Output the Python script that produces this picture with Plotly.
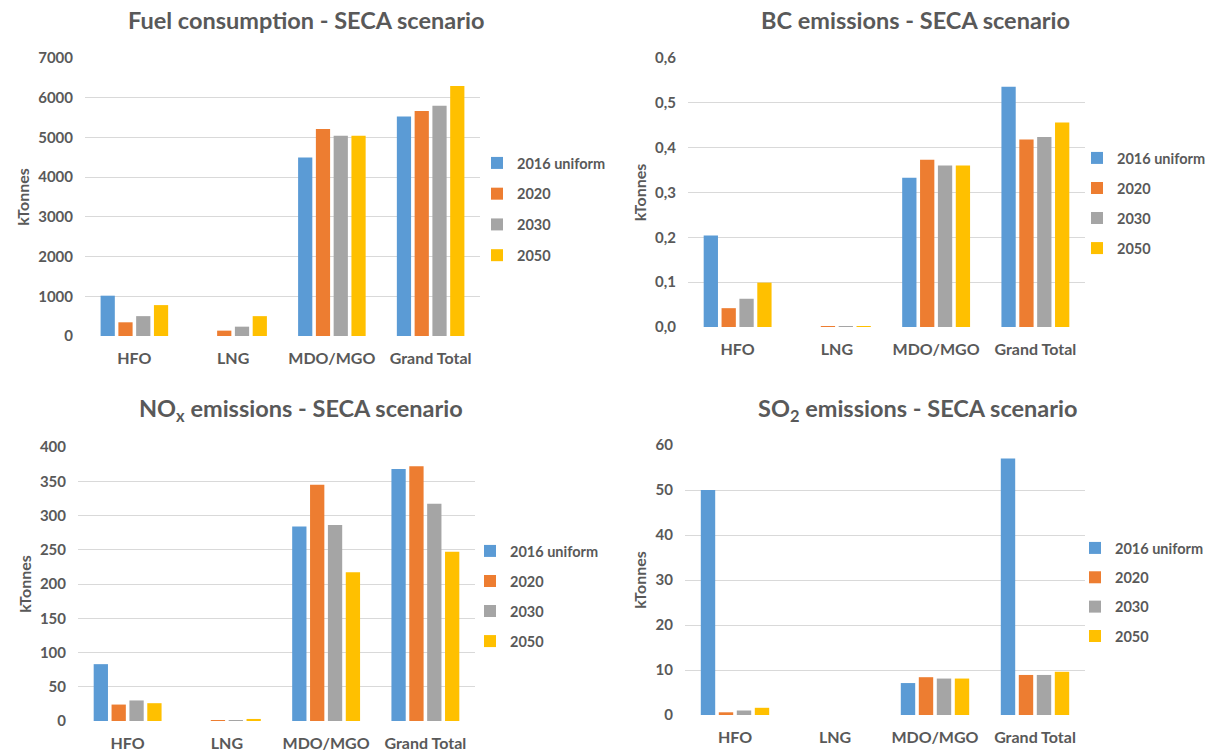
import plotly.graph_objects as go

categories = ["HFO", "LNG", "MDO/MGO", "Grand Total"]
series_names = ["2016 uniform", "2020", "2030", "2050"]
colors = ["#5B9BD5", "#ED7D31", "#A5A5A5", "#FFC000"]

# Fuel consumption (kTonnes)
fuel_2016 = [1015, 0, 4495, 5525]
fuel_2020 = [345, 135, 5215, 5665]
fuel_2030 = [500, 235, 5040, 5800]
fuel_2050 = [778, 500, 5040, 6295]

# BC emissions (kTonnes)
bc_2016 = [0.204, 0.0, 0.333, 0.536]
bc_2020 = [0.042, 0.001, 0.373, 0.418]
bc_2030 = [0.063, 0.001, 0.360, 0.424]
bc_2050 = [0.099, 0.001, 0.360, 0.456]

# NOx emissions (kTonnes)
nox_2016 = [83, 0, 284, 368]
nox_2020 = [24, 1, 345, 372]
nox_2030 = [30, 1, 286, 317]
nox_2050 = [26, 3, 217, 247]

# SO2 emissions (kTonnes)
so2_2016 = [50.0, 0, 7.1, 57.0]
so2_2020 = [0.6, 0, 8.4, 8.9]
so2_2030 = [1.0, 0, 8.1, 8.9]
so2_2050 = [1.6, 0, 8.1, 9.6]

W, H = 1217, 756


def px(x):
    return x / W


def py(y):
    return 1 - y / H


panels = [
    dict(title="Fuel consumption - SECA scenario", data=[fuel_2016, fuel_2020, fuel_2030, fuel_2050],
         xd=[px(85), px(480)], yd=[py(336), py(58)], rng=[0, 7000], dtick=1000, fmt="d",
         tx=px(306), ty=py(20), lx=px(477), ly=py(147), gap=8.9),
    dict(title="BC emissions - SECA scenario", data=[bc_2016, bc_2020, bc_2030, bc_2050],
         xd=[px(688), px(1085)], yd=[py(327), py(58)], rng=[0, 0.6], dtick=0.1, fmt=".1f",
         tx=px(916), ty=py(20), lx=px(1077), ly=py(142), gap=8.2),
    dict(title="NO<sub>x</sub> emissions - SECA scenario", data=[nox_2016, nox_2020, nox_2030, nox_2050],
         xd=[px(78), px(475)], yd=[py(721), py(447)], rng=[0, 400], dtick=50, fmt="d",
         tx=px(301), ty=py(410), lx=px(470), ly=py(535), gap=8.2),
    dict(title="SO<sub>2</sub> emissions - SECA scenario", data=[so2_2016, so2_2020, so2_2030, so2_2050],
         xd=[px(685), px(1085)], yd=[py(715), py(445)], rng=[0, 60], dtick=10, fmt="d",
         tx=px(917), ty=py(410), lx=px(1075), ly=py(532), gap=7.5),
]

FONT = "Lato, 'Open Sans', sans-serif"
TXT = "#595959"

fig = go.Figure()
layout = dict(
    width=W, height=H, margin=dict(l=0, r=0, t=0, b=0, autoexpand=False),
    paper_bgcolor="white", plot_bgcolor="white",
    font=dict(family=FONT, color=TXT, size=14),
    barmode="group", bargap=0.28, bargroupgap=0.2,
    separators=",.", annotations=[],
)

for i, p in enumerate(panels):
    n = i + 1
    xa = "x" if n == 1 else f"x{n}"
    ya = "y" if n == 1 else f"y{n}"
    leg = "legend" if n == 1 else f"legend{n}"
    for s, (name, col, vals) in enumerate(zip(series_names, colors, p["data"])):
        fig.add_trace(go.Bar(
            x=categories, y=vals, name=name, marker=dict(color=col, line=dict(width=0)),
            xaxis=xa, yaxis=ya, legend=leg, legendgroup=f"p{n}s{s}",
        ))
    layout[f"xaxis{'' if n == 1 else n}"] = dict(
        domain=p["xd"], anchor=ya, showgrid=False, showline=False, zeroline=False,
        automargin=False,
        ticks="outside", ticklen=8, tickcolor="rgba(0,0,0,0)",
        tickfont=dict(size=16, family=FONT, color=TXT, weight="bold"), fixedrange=True,
    )
    layout[f"yaxis{'' if n == 1 else n}"] = dict(
        domain=p["yd"], anchor=xa, range=p["rng"], dtick=p["dtick"], tick0=0,
        tickformat=p["fmt"], showgrid=True, gridcolor="#D9D9D9", gridwidth=1,
        automargin=False,
        zeroline=False, showline=False, ticks="outside", ticklen=8, tickcolor="rgba(0,0,0,0)",
        tickfont=dict(size=15, family=FONT, color=TXT, weight="bold"),
        title=dict(text="kTonnes", font=dict(size=16, family=FONT, color=TXT, weight="bold"), standoff=4),
        fixedrange=True,
    )
    layout[leg] = dict(
        x=p["lx"], y=p["ly"], xanchor="left", yanchor="top",
        font=dict(size=14.5, family=FONT, color=TXT, weight="bold"),
        bgcolor="rgba(0,0,0,0)", traceorder="grouped", tracegroupgap=p["gap"],
        itemwidth=30,
    )
    layout["annotations"].append(dict(
        text=f"<b>{p['title']}</b>", x=p["tx"], y=p["ty"], xref="paper", yref="paper",
        xanchor="center", yanchor="middle", showarrow=False,
        font=dict(size=23.5, family=FONT, color=TXT),
    ))

fig.update_layout(**layout)
# Remove the default 8px page margin so the figure fills the window exactly.
fig.write_html(
    "out.html",
    config={"displayModeBar": False},
    post_script="document.body.style.margin='0px';document.body.style.overflow='hidden';",
)
